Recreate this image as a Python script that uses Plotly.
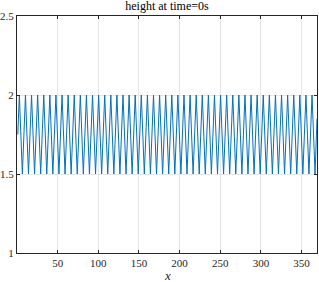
import plotly.graph_objects as go

# x positions of crests and troughs
x_start = [1.0]
h_start = [1.75]
x_peaks = [2.9, 10.4, 17.9, 25.4, 32.9, 40.4, 47.9, 55.4, 62.9, 70.4, 77.9, 85.4,
           92.9, 100.4, 107.9, 115.4, 122.9, 130.4, 137.9, 145.4, 152.9, 160.4,
           167.9, 175.4, 182.9, 190.4, 197.9, 205.4, 212.9, 220.4, 227.9, 235.4,
           242.9, 250.4, 257.9, 265.4, 272.9, 280.4, 287.9, 295.4, 302.9, 310.4,
           317.9, 325.4, 332.9, 340.4, 347.9, 355.4, 362.9]
x_troughs = [6.6, 14.1, 21.6, 29.1, 36.6, 44.1, 51.6, 59.1, 66.6, 74.1, 81.6, 89.1,
             96.6, 104.1, 111.6, 119.1, 126.6, 134.1, 141.6, 149.1, 156.6, 164.1,
             171.6, 179.1, 186.6, 194.1, 201.6, 209.1, 216.6, 224.1, 231.6, 239.1,
             246.6, 254.1, 261.6, 269.1, 276.6, 284.1, 291.6, 299.1, 306.6, 314.1,
             321.6, 329.1, 336.6, 344.1, 351.6, 359.1, 366.6]
h_peak = 2.0
h_trough = 1.5
x_end = [369.0]
h_end = [1.85]

x_ticks = [50, 100, 150, 200, 250, 300, 350]
y_ticks = [1, 1.5, 2, 2.5]

xs = list(x_start)
hs = list(h_start)
for xp, xt in zip(x_peaks, x_troughs):
    xs += [xp, xt]
    hs += [h_peak, h_trough]
xs += x_end
hs += h_end

fig = go.Figure()
fig.add_trace(go.Scatter(x=xs, y=hs, mode="lines",
                         line=dict(color="#0072BD", width=1), showlegend=False))

FONT = "Liberation Serif"
axis_common = dict(
    showline=True, linecolor="#262626", linewidth=1, mirror="ticks",
    ticks="inside", ticklen=3, tickcolor="#262626", tickwidth=1,
    showgrid=True, gridcolor="#e6e6e6", gridwidth=1, zeroline=False,
    automargin=False,
    tickfont=dict(family=FONT, size=11, color="#262626"),
)

fig.update_layout(
    width=319, height=282,
    margin=dict(l=17, r=2, t=16, b=29),
    paper_bgcolor="white", plot_bgcolor="white",
    title=dict(text="height at time=0s", x=0.5, xanchor="center", xref="paper",
               y=1 - 6 / 282, yref="container", yanchor="middle",
               font=dict(family=FONT, size=12, color="black")),
    xaxis=dict(range=[0, 369], tickvals=x_ticks, **axis_common),
    yaxis=dict(range=[1, 2.5], tickvals=y_ticks, ticktext=["1", "1.5", "2", "2.5"],
               **axis_common),
    annotations=[dict(text="<i>x</i>", x=0.5, xref="paper", y=-(275 - 253) / 237,
                      yref="paper", yanchor="middle", xanchor="center",
                      showarrow=False,
                      font=dict(family=FONT, size=13, color="#262626"))],
)

fig.write_html("out.html",
               config={"displayModeBar": False},
               post_script="document.body.style.margin='0px';"
                           "document.body.style.overflow='hidden';")
